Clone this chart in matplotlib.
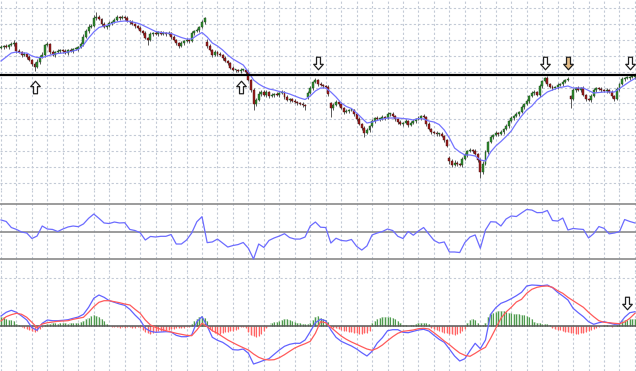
import numpy as np
import matplotlib
matplotlib.use("Agg")
import matplotlib.pyplot as plt
from matplotlib.path import Path

# H4 bars, closes (arbitrary price units)
closes = [
    153, 154, 153, 155, 156, 157, 149, 148, 145, 146,
    143, 140, 136, 133, 138, 143, 145, 155, 156, 148,
    145, 148, 149, 150, 149, 147, 150, 149, 151, 151,
    153, 156, 163, 169, 173, 174, 182, 183, 181, 176,
    173, 174, 177, 178, 180, 183, 182, 183, 182, 179,
    178, 176, 174, 172, 169, 167, 162, 160, 166, 167,
    166, 168, 166, 167, 166, 167, 163, 160, 157, 154,
    157, 159, 160, 159, 167, 169, 170, 173, 178, 182,
    154, 150, 145, 148, 146, 145, 142, 139, 137, 132,
    130, 130, 129, 130, 130, 128, 120, 110, 96, 100,
    106, 108, 105, 108, 104, 105, 106, 105, 107, 108,
    103, 100, 101, 99, 98, 97, 96, 95, 94, 107,
    112, 118, 120, 116, 115, 114, 113, 106, 92, 95,
    98, 96, 92, 88, 89, 90, 90, 86, 81, 76,
    72, 67, 70, 74, 79, 82, 81, 81, 83, 82,
    86, 86, 84, 81, 78, 76, 77, 79, 75, 77,
    79, 81, 82, 84, 83, 76, 71, 68, 67, 66,
    66, 64, 60, 54, 39, 35, 37, 36, 35, 41,
    45, 49, 50, 49, 46, 40, 28, 36, 48, 58,
    63, 65, 67, 66, 68, 71, 74, 79, 82, 84,
    86, 88, 93, 96, 99, 104, 107, 108, 105, 114,
    119, 122, 116, 113, 112, 113, 115, 116, 118, 120,
    121, 101, 110, 112, 110, 112, 105, 101, 100, 104,
    110, 112, 111, 110, 109, 110, 108, 104, 101, 111,
    116, 121, 122, 122, 123, 123, 124,
]
first_open = 152
gap_opens = {80: 158, 119: 103, 128: 97, 174: 42, 221: 104}

up_wick = [
    2, 1, 2, 1, 2, 3, 1, 2, 1, 2,  1, 2, 1, 2, 3, 2, 3, 1, 2, 1,
    2, 1, 2, 1, 1, 2, 1, 2, 1, 2,  1, 2, 3, 2, 3, 2, 3, 5, 2, 1,
    2, 1, 2, 1, 2, 2, 1, 2, 1, 2,  1, 2, 1, 1, 2, 1, 2, 1, 2, 1,
    2, 1, 1, 2, 1, 2, 1, 2, 1, 1,  2, 1, 2, 1, 2, 1, 2, 1, 2, 1,
    3, 2, 1, 2, 1, 2, 1, 2, 1, 1,  2, 1, 1, 2, 1, 1, 2, 1, 2, 2,
    3, 2, 2, 2, 1, 2, 1, 2, 1, 2,  1, 2, 1, 1, 2, 1, 1, 2, 1, 2,
    2, 1, 2, 1, 2, 1, 1, 2, 1, 2,  2, 1, 2, 1, 2, 1, 2, 1, 1, 2,
    1, 2, 2, 1, 2, 1, 2, 1, 2, 1,  2, 1, 2, 1, 1, 2, 1, 2, 1, 2,
    2, 1, 2, 1, 2, 1, 2, 1, 1, 2,  1, 2, 1, 1, 2, 2, 3, 2, 1, 2,
    2, 1, 2, 1, 2, 1, 2, 3, 2, 1,  2, 1, 2, 1, 2, 1, 2, 1, 2, 1,
    2, 1, 2, 1, 2, 1, 2, 2, 1, 2,  1, 1, 2, 1, 2, 1, 2, 1, 2, 1,
    2, 1, 2, 1, 2, 1, 2, 1, 1, 2,  2, 1, 1, 2, 1, 2, 1, 2, 1, 2,
    1, 2, 1, 2, 1, 2, 1,
]
low_wick = [
    1, 2, 1, 2, 1, 2, 2, 1, 2, 1,  2, 1, 2, 4, 1, 2, 1, 2, 1, 2,
    1, 2, 1, 2, 2, 1, 2, 1, 2, 1,  2, 1, 2, 1, 2, 1, 1, 2, 1, 2,
    1, 2, 1, 2, 1, 1, 2, 1, 2, 1,  2, 1, 2, 1, 1, 2, 1, 5, 1, 2,
    1, 2, 1, 1, 2, 1, 2, 1, 2, 2,  1, 2, 1, 2, 1, 2, 1, 2, 1, 2,
    2, 1, 2, 1, 2, 1, 2, 1, 2, 1,  1, 2, 1, 2, 1, 2, 1, 2, 6, 2,
    1, 2, 1, 2, 2, 1, 2, 1, 2, 1,  2, 1, 2, 1, 1, 2, 1, 2, 4, 2,
    1, 2, 1, 2, 1, 2, 1, 2, 9, 2,  1, 2, 1, 2, 1, 2, 1, 2, 2, 1,
    2, 4, 1, 2, 1, 2, 1, 2, 1, 2,  1, 2, 1, 2, 2, 1, 2, 1, 2, 1,
    1, 2, 1, 2, 1, 2, 1, 2, 1, 2,  2, 1, 2, 1, 3, 2, 1, 2, 1, 2,
    1, 2, 1, 2, 1, 2, 6, 2, 1, 2,  1, 2, 1, 2, 1, 2, 1, 2, 1, 2,
    1, 2, 1, 2, 1, 2, 1, 2, 1, 2,  2, 1, 2, 1, 2, 1, 2, 1, 2, 1,
    1, 9, 1, 2, 1, 2, 1, 2, 1, 2,  1, 2, 1, 2, 1, 2, 1, 2, 2, 1,
    2, 1, 2, 1, 2, 1, 2,
]

# moving average, every 2nd bar
ma_line = [
    139, 143, 147, 148, 147, 147, 144, 142.5, 142.5, 144,
    145.5, 146.5, 147, 148, 149, 150.5, 155, 162, 168, 172.5,
    174, 175.5, 177.5, 178.5, 179, 178.5, 177.5, 176, 173.5, 171,
    168.5, 167.5, 167, 166.5, 164.5, 162.5, 161, 161, 164.5, 167.5,
    163, 157, 154, 150, 145, 141, 138, 135, 128, 120,
    116, 113, 111, 110, 108.5, 107.5, 106, 104, 102, 100.5,
    104, 109, 112, 112, 108, 103, 97, 93.5, 91.5, 87,
    82, 77, 78, 79.5, 81, 82, 82, 82, 81.5, 81,
    80, 81.5, 81, 79, 78, 75.5, 70, 62, 52, 48,
    45, 45, 44, 40, 39, 48, 54, 58.5, 63.5, 69,
    77, 84, 90, 94, 100, 104, 108, 110, 112, 113,
    114, 112, 112, 112, 109.5, 107, 107.5, 108, 108, 108,
    111.5, 115, 118.5, 121.5,
]

# RSI, every 2nd bar
rsi = [
    58.4, 57.3, 52.9, 51.5, 49.6, 48.9, 44.9, 46.7, 54.0, 51.8,
    51.5, 50.0, 51.8, 53.3, 54.0, 53.5, 55.5, 59.6, 62.7, 59.6,
    56.2, 55.8, 56.9, 56.2, 56.4, 51.5, 50.7, 49.1, 43.8, 46.4,
    46.0, 46.5, 46.5, 47.8, 40.9, 40.9, 43.8, 48.9, 57.1, 60.8,
    41.9, 42.4, 44.5, 41.6, 38.7, 39.8, 40.5, 42.0, 37.8, 30.0,
    40.9, 38.4, 43.5, 45.3, 46.7, 48.4, 45.6, 44.5, 44.5, 46.0,
    54.0, 56.9, 53.1, 52.9, 41.6, 45.1, 43.5, 43.1, 44.2, 39.2,
    36.5, 39.5, 47.5, 48.9, 50.0, 51.8, 50.7, 46.5, 44.9, 50.0,
    47.3, 50.4, 52.9, 48.2, 43.6, 41.6, 42.4, 35.1, 35.1, 34.7,
    42.0, 46.0, 47.5, 37.8, 51.1, 57.1, 56.9, 54.0, 59.1, 61.3,
    60.9, 63.5, 66.0, 65.6, 63.7, 63.8, 65.3, 58.0, 57.6, 59.8,
    51.1, 52.2, 51.8, 51.5, 45.3, 48.5, 53.6, 52.3, 48.3, 48.9,
    49.9, 58.7, 57.3, 56.2,
]
rsi_levels = [30, 50, 70]

# MACD lines, every 2nd bar
macd_main = [
    9.7, 13.4, 15.4, 13.4, 9.7, 5.7, -2.0, -4.6, 2.4, 5.7,
    5.0, 5.0, 5.4, 6.0, 7.4, 8.7, 11.4, 18.4, 27.4, 30.7,
    28.4, 25.0, 23.4, 21.7, 20.4, 16.4, 10.7, 5.7, -2.6, -5.6,
    -6.6, -6.3, -6.0, -6.3, -9.6, -11.0, -11.0, -9.3, 4.0, 9.0,
    -0.3, -11.6, -14.6, -16.6, -20.0, -24.0, -24.3, -23.3, -27.6, -38.3,
    -36.6, -34.6, -33.0, -28.6, -24.3, -20.6, -18.6, -17.6, -17.6, -14.3,
    -6.0, 3.0, 6.4, 5.0, -4.3, -11.6, -15.6, -18.0, -20.3, -23.3,
    -27.0, -30.3, -25.6, -17.3, -12.0, -5.0, -4.0, -4.0, -6.6, -7.0,
    -5.6, -4.3, -3.6, -5.3, -9.6, -13.6, -16.6, -23.3, -30.3, -35.3,
    -33.0, -25.0, -17.6, -23.0, -14.3, 11.4, 18.0, 22.4, 24.4, 27.0,
    30.0, 33.4, 39.7, 40.7, 40.4, 40.0, 40.7, 38.0, 33.4, 29.7,
    25.7, 17.4, 13.0, 9.0, 4.0, 1.4, 3.0, 4.0, 2.7, 1.4,
    1.7, 8.4, 13.0, 14.0,
]
macd_signal = [
    4.7, 9.0, 11.0, 12.4, 11.4, 8.4, 3.4, -2.0, 1.7, 3.0,
    3.7, 4.4, 4.7, 5.0, 6.4, 7.4, 8.4, 13.4, 19.0, 23.4,
    25.0, 25.0, 24.0, 23.0, 21.7, 20.7, 16.4, 12.4, 5.7, 0.7,
    -1.6, -3.6, -5.0, -6.3, -7.6, -8.6, -9.6, -10.0, -4.3, 2.4,
    -1.0, -5.0, -7.6, -11.0, -14.3, -17.0, -19.6, -22.0, -24.3, -28.3,
    -31.6, -33.6, -34.3, -34.0, -32.0, -29.0, -25.6, -22.3, -20.0, -18.0,
    -15.6, -7.6, 4.0, 3.0, -1.6, -6.0, -10.3, -13.6, -16.3, -18.6,
    -21.0, -23.3, -24.6, -22.6, -19.3, -15.0, -11.0, -7.6, -5.6, -5.0,
    -4.3, -3.0, -2.6, -3.3, -7.0, -11.0, -15.3, -19.0, -23.3, -27.3,
    -29.6, -30.6, -27.6, -24.3, -21.6, -12.6, -2.6, 7.4, 13.7, 18.4,
    23.7, 26.4, 32.4, 36.4, 38.4, 39.4, 39.7, 38.4, 35.0, 32.4,
    28.4, 25.0, 21.7, 18.4, 13.4, 9.0, 5.0, 3.4, 3.0, 2.4,
    2.0, 3.7, 7.4, 12.4,
]
# histogram, every bar
macd_hist = [
    9, 8.5, 7, 6, 5.5, 5, 2, 0.5,
    -1.5, -2.5, -3.5, -4.5, -5.5, -6, -5, -3, -1, 0.5,
    1.5, 2, 2.5, 2.5, 2, 2.5, 3, 2.5, 2, 2.5, 3, 2.5, 3,
    4, 5, 6.5, 8, 9.5, 10.5, 10, 9, 7, 4.5, 1.5, 0,
    -1, -1.5, -1.5, -2, -1.5, -2, -1.5, -1.5, -2, -2, -1.5, -2,
    -4, -6, -7.5, -8, -7, -6, -5.5, -5, -5, -4.5, -4, -3.5, -3,
    -2.5, -2.5, -2, -2, -1.5, -1,
    2, 4.5, 7, 9, 9.5, 8, 5,
    -3, -5, -7, -8, -8, -7, -6, -6, -5, -5, -4, -3, -1.5, -1, -2,
    -6, -9, -10.5, -11, -10, -8, -5, -2, 0,
    2.5, 3.5, 4, 5, 6, 7, 7, 6, 5, 4, 3, 2.5, 2, 2, 1.5, 2.5,
    6, 8.5, 9.5, 8, 7, 6, 4,
    -1.5, -2.5, -2.5, -3, -4, -5, -5.5, -6, -6.5, -7, -7.5, -8, -8, -7.5, -7, -5,
    3, 5, 6.5, 7.5, 8.5, 9, 9, 8.5, 7.5, 6.5, 5, 3,
    1, 0.5, -0.5, 0.5, 1, 2, 2.5, 3, 3, 2.5, 2,
    -2, -3.5, -4.5, -5.5, -6.5, -7, -7.5, -8, -8.5, -9, -8, -7, -5.5, -3,
    3, 6, 7, 6, 3, 1, 0.5, 3,
    9, 12, 13, 14, 14.5, 15, 14.5, 13.5, 13, 12.5, 12, 12, 11.5, 11, 10.5, 10, 9, 7,
    4, 3, 2.5, 2, 2, 1.5, 0.5,
    -2, -3, -4, -4.5, -5, -6, -6.5, -7, -7.5, -8, -8, -7.5, -7, -6.5, -5.5, -4, -3, -2,
    -1, -0.5, 0.5, 0.5, -0.5, -1, -0.5, 0.5,
    3, 4.5, 5.5, 6, 6.5, 6.5, 7,
]

level = 125
up_marks = [13, 93]
down_marks = [123, 211, 220, 244]
macd_mark = 243

# ---- build OHLC
n = len(closes)
x = np.arange(n)
c = np.array(closes, dtype=float)
o = np.concatenate([[first_open], c[:-1]])
for k, v in gap_opens.items():
    o[k] = v
hi = np.maximum(o, c) + np.array(up_wick)
lo = np.minimum(o, c) - np.array(low_wick)
x2 = np.arange(len(ma_line)) * 2

grid_kw = dict(color="#c3cad6", lw=0.8, ls=(0, (2, 2)))
xl = (-1 / 2.577, 635 / 2.577)

fig = plt.figure(figsize=(6.36, 3.71), dpi=100)
H = 371.0
ax1 = fig.add_axes([0, (H - 190) / H, 1, 190 / H])
ax2 = fig.add_axes([0, (H - 272) / H, 1, 82 / H])
ax3 = fig.add_axes([0, 0, 1, 99 / H])

for ax in (ax1, ax2, ax3):
    ax.set_xlim(*xl)
    ax.set_xticks(np.arange(0, n + 1, 6))
    ax.tick_params(length=0, labelbottom=False, labelleft=False)
    ax.grid(axis="x", **grid_kw)
    ax.set_axisbelow(True)
    for s in ax.spines.values():
        s.set_visible(False)

# ---- price panel
ax1.set_ylim(10, 200)
ax1.set_yticks(17.1 + 15.9 * np.arange(12))
ax1.grid(axis="y", **grid_kw)
ax1.vlines(x, lo, hi, color="#404040", lw=0.6, zorder=2)
up = c >= o
body = np.maximum(np.abs(c - o), 0.7)
ax1.bar(x[up], body[up], bottom=o[up], width=0.75, color="#2e8b2e",
        edgecolor="#1e4a1e", lw=0.3, zorder=3)
ax1.bar(x[~up], body[~up], bottom=c[~up], width=0.75, color="#9a1c1c",
        edgecolor="#4a1010", lw=0.3, zorder=3)
ax1.plot(x2, ma_line, color="#7474ff", lw=0.9, zorder=4)
ax1.axhline(level, color="black", lw=1.6, zorder=5)

v_up = [(0, 6), (4.6, 0.8), (1.9, 0.8), (1.9, -6), (-1.9, -6), (-1.9, 0.8), (-4.6, 0.8), (0, 6)]
codes = [Path.MOVETO] + [Path.LINETO] * 6 + [Path.CLOSEPOLY]
arrow_up = Path(v_up, codes)
arrow_dn = Path([(a, -b) for a, b in v_up], codes)
ax1.plot(up_marks, [level - 11.5] * len(up_marks), ls="none", marker=arrow_up,
         ms=9, mfc="white", mec="#202020", mew=0.9, zorder=6)
for b in down_marks:
    fc = "#e8bf88" if b == 220 else "white"
    ax1.plot([b], [level + 12.5], ls="none", marker=arrow_dn, ms=9,
             mfc=fc, mec="#202020", mew=0.9, zorder=6)

# ---- RSI panel
ax2.set_ylim(50 - 40.5 / 1.375, 50 + 41.5 / 1.375)
ax2.set_yticks([])
for lv in rsi_levels:
    ax2.axhline(lv, color="#8a8a8a", lw=1.2, zorder=2)
ax2.plot(x2, rsi, color="#6c6cff", lw=0.9, zorder=3)

# ---- MACD panel
ax3.set_ylim(-45.3, 53.7)
ax3.set_yticks([47.7])
ax3.grid(axis="y", **grid_kw)
hist = np.array(macd_hist, dtype=float)
pos = hist >= 0
ax3.bar(x[pos], hist[pos], width=0.9, color="#d6ead6", zorder=2)
ax3.bar(x[~pos], hist[~pos], width=0.9, color="#ffdcdc", zorder=2)
ax3.vlines(x[pos], 0, hist[pos], color="#4f9a4f", lw=0.8, zorder=3)
ax3.vlines(x[~pos], 0, hist[~pos], color="#ff6464", lw=0.8, zorder=3)
ax3.axhline(0, color="#555555", lw=1.1, zorder=4)
ax3.plot(x2, macd_main, color="#6262ff", lw=0.9, zorder=5)
ax3.plot(x2, macd_signal, color="#ff5a5a", lw=0.9, zorder=5)
ax3.plot([macd_mark], [macd_main[macd_mark // 2] + 14], ls="none", marker=arrow_dn,
         ms=9, mfc="white", mec="#202020", mew=0.9, zorder=6)

fig.savefig("out.png", dpi=100)
